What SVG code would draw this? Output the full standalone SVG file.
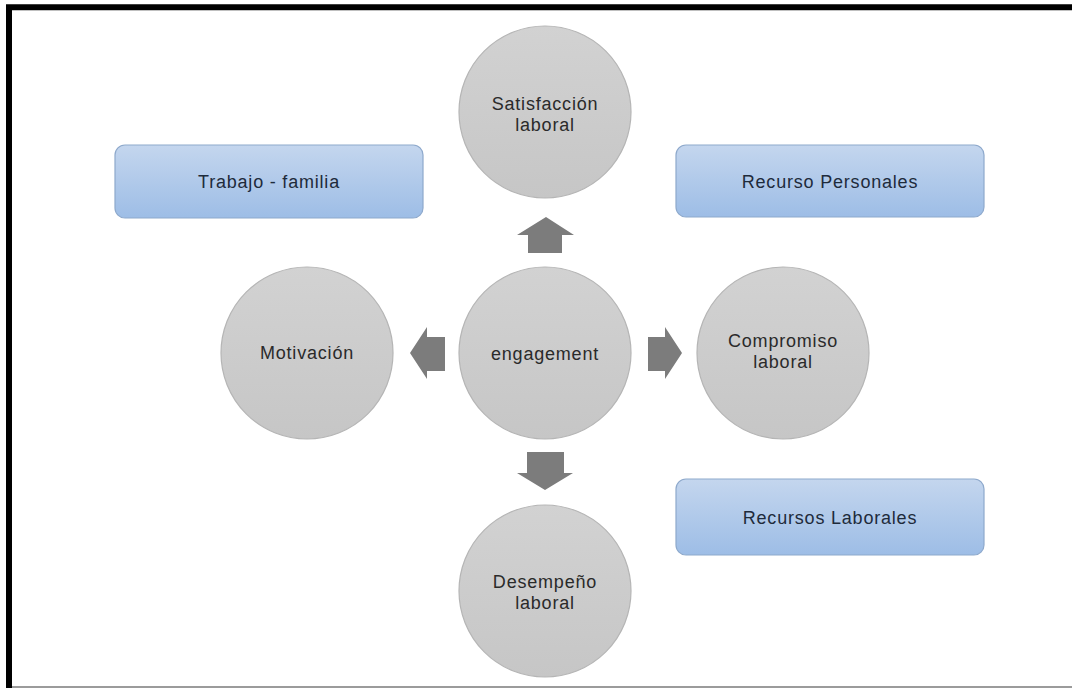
<svg xmlns="http://www.w3.org/2000/svg" width="1072" height="688" viewBox="0 0 1072 688">
<defs>
<linearGradient id="gc" x1="0" y1="0" x2="0" y2="1">
<stop offset="0" stop-color="#d2d2d2"/>
<stop offset="1" stop-color="#c6c6c6"/>
</linearGradient>
<linearGradient id="gb" x1="0" y1="0" x2="0" y2="1">
<stop offset="0" stop-color="#c4d6ee"/>
<stop offset="1" stop-color="#9dbde6"/>
</linearGradient>
<style>
.c{fill:url(#gc);stroke:#b5b5b5;stroke-width:1.2}
.b{fill:url(#gb);stroke:#8ea9cc;stroke-width:1.2}
.t{font-family:"Liberation Sans",Arial,sans-serif;font-size:18px;letter-spacing:0.8px;text-anchor:middle;fill:#2a2a2a}
.tb{fill:#1e2b3b}
.a{fill:#7c7c7c}
</style>
</defs>
<rect width="1072" height="688" fill="#fff"/>
<path d="M9 688 V7.2 H1072" fill="none" stroke="#000" stroke-width="6"/>
<line x1="12" y1="687" x2="1072" y2="687" stroke="#7a7a7a" stroke-width="1.5"/>

<g id="connectors">
<polygon class="a" points="546,217 574,235 562,235 562,253 528,253 528,235 517,235"/>
<polygon class="a" points="527,452 564,452 564,473 573,473 545,490 517,473 527,473"/>
<polygon class="a" points="410,353 427,327 427,337 445,337 445,371 427,371 427,379"/>
<polygon class="a" points="682,353 665,327 665,337 648,337 648,371 665,371 665,379"/>
</g>

<g id="satisfaccion">
<circle class="c" cx="545" cy="112" r="86"/>
<text class="t" x="545" y="110">Satisfacción</text>
<text class="t" x="545" y="131">laboral</text>
</g>
<g id="engagement">
<circle class="c" cx="545" cy="353" r="86"/>
<text class="t" x="545" y="360">engagement</text>
</g>
<g id="motivacion">
<circle class="c" cx="307" cy="353" r="86"/>
<text class="t" x="307" y="359">Motivación</text>
</g>
<g id="compromiso">
<circle class="c" cx="783" cy="353" r="86"/>
<text class="t" x="783" y="347">Compromiso</text>
<text class="t" x="783" y="368">laboral</text>
</g>
<g id="desempeno">
<circle class="c" cx="545" cy="591" r="86"/>
<text class="t" x="545" y="588">Desempeño</text>
<text class="t" x="545" y="609">laboral</text>
</g>
<g id="trabajo-familia">
<rect class="b" x="115" y="145" width="308" height="73" rx="10"/>
<text class="t tb" x="269" y="188">Trabajo - familia</text>
</g>
<g id="recurso-personales">
<rect class="b" x="676" y="145" width="308" height="72" rx="10"/>
<text class="t tb" x="830" y="188">Recurso Personales</text>
</g>
<g id="recursos-laborales">
<rect class="b" x="676" y="479" width="308" height="76" rx="10"/>
<text class="t tb" x="830" y="524">Recursos Laborales</text>
</g>
</svg>
